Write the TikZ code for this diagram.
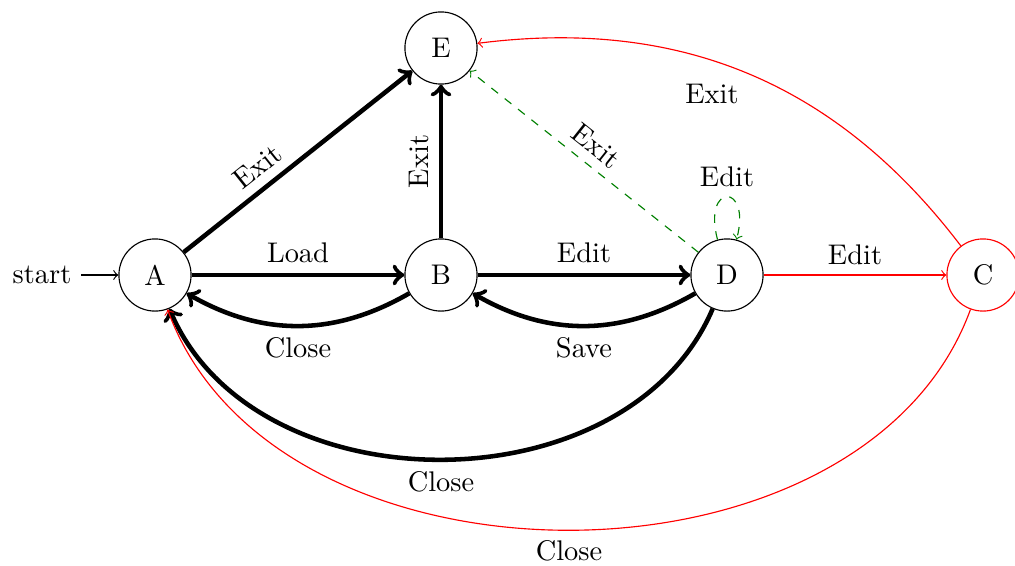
\documentclass[tikz,border=0pt]{standalone}

\tikzset{every picture/.style={line width=0.4pt}}
\tikzset{
  statenode/.style={circle, draw, minimum size=25.4pt, inner sep=0pt},
  heavy/.style={->, line width=1.6pt},
  redline/.style={->, draw=red},
  greenline/.style={->, dashed, draw=green!50!black}
}

\begin{document}
\begin{tikzpicture}[x=0.352pt,y=0.352pt]
\useasboundingbox (0,0) rectangle (1015,-566);

%Shape: Circle [id:A]
\node [statenode] (A) at (155,-275) {A};
%Shape: Circle [id:B]
\node [statenode] (B) at (441,-275) {B};
%Shape: Circle [id:D]
\node [statenode] (D) at (727,-275) {D};
%Shape: Circle [id:C]
\node [statenode, draw=red] (C) at (983,-275) {C};
%Shape: Circle [id:E]
\node [statenode] (E) at (441,-48) {E};
% Text Node
\node (start) at (42,-275) {start};

%Straight Lines
\draw [->] (start) -- (A);
\draw [heavy] (A) -- node [sloped, above, pos=0.38] {Exit} (E);
\draw [heavy] (A) -- node [above] {Load} (B);
\draw [heavy] (B) -- node [sloped, above] {Exit} (E);
\draw [heavy] (B) -- node [above] {Edit} (D);
%Curves
\draw [heavy] (B) to [bend left] node [below] {Close} (A);
\draw [heavy] (D) to [bend left] node [below] {Save} (B);
\draw [heavy] (D) to [bend left=67, looseness=1.03] node [below] {Close} (A);
%Dashed Lines
\draw [greenline] (D) -- node [sloped, above] {Exit} (E);
\draw [greenline] (D) to [loop above] node [above] {Edit} (D);
%Red Lines
\draw [redline] (D) -- node [above] {Edit} (C);
\draw [redline] (C) to [bend right] node [below left] {Exit} (E);
\draw [redline] (C) to [bend left=70] node [below] {Close} (A);

\end{tikzpicture}
\end{document}
